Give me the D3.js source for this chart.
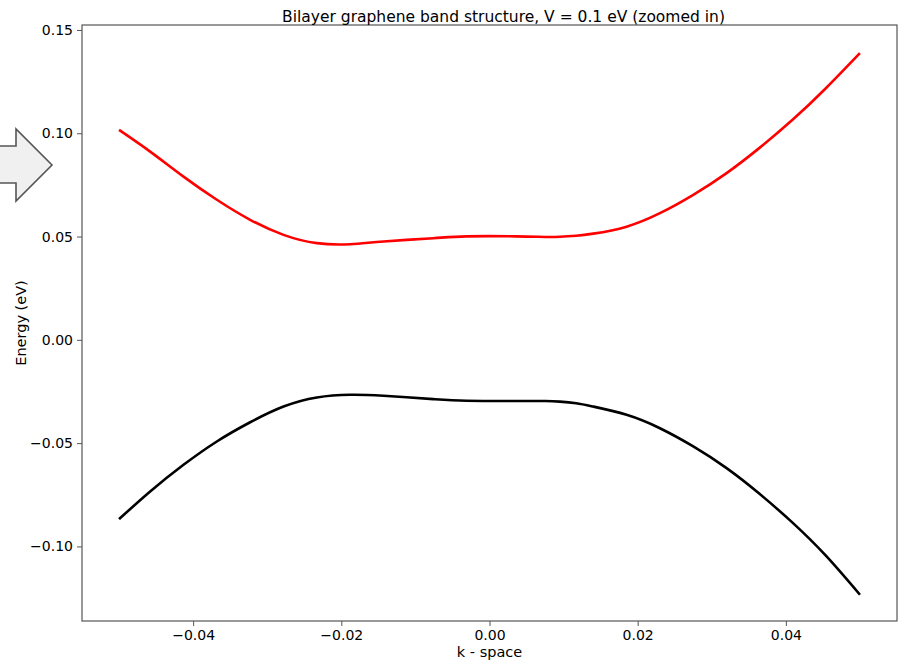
<!DOCTYPE html>
<html>
<head>
<meta charset="utf-8">
<script src="https://cdn.jsdelivr.net/npm/d3@7"></script>
<style>
  html, body { margin: 0; padding: 0; background: #fff; }
  svg { display: block; font-family: "DejaVu Sans", sans-serif; }
</style>
</head>
<body>
<svg id="chart" width="904" height="664"></svg>
<script>
// ---- data ----
const kValues = [-0.05, -0.0458, -0.0413, -0.0368, -0.0323, -0.0278, -0.0233, -0.0188, -0.0143, -0.0076, -0.0031, 0.0036, 0.0075, 0.0095, 0.0117, 0.014, 0.0185, 0.023, 0.0275, 0.032, 0.0364, 0.0409, 0.0454, 0.05];
const upperBand = [0.1016, 0.0911, 0.0790, 0.0678, 0.0581, 0.0508, 0.0468, 0.0463, 0.0476, 0.0492, 0.0501, 0.0501, 0.0498, 0.0499, 0.0504, 0.0514, 0.0548, 0.0613, 0.0702, 0.0807, 0.0928, 0.1065, 0.1218, 0.1388];
const lowerBand = [-0.0868, -0.0734, -0.0605, -0.0492, -0.0399, -0.0323, -0.0279, -0.0266, -0.0271, -0.0287, -0.0295, -0.0296, -0.0296, -0.0299, -0.0307, -0.0323, -0.0363, -0.0428, -0.0516, -0.0621, -0.0744, -0.0885, -0.1045, -0.1234];
const xTicks = [-0.04, -0.02, 0.00, 0.02, 0.04];
const yTicks = [-0.10, -0.05, 0.00, 0.05, 0.10, 0.15];
const titleText = "Bilayer graphene band structure, V = 0.1 eV (zoomed in)";
const xLabel = "k - space";
const yLabel = "Energy (eV)";

// ---- layout ----
const svg = d3.select("#chart");
const mLeft = 82, mRight = 897, mTop = 25, mBottom = 621;

const x = d3.scaleLinear().domain([-0.055, 0.055]).range([mLeft, mRight]);
const y = d3.scaleLinear().domain([-0.1361, 0.1524]).range([mBottom, mTop]);

const fmt = v => {
  const s = d3.format(".2f")(Math.abs(v) < 1e-12 ? 0 : v);
  return s.replace("-", "\u2212");
};

// axes
const xAxis = d3.axisBottom(x).tickValues(xTicks).tickSize(5).tickPadding(4).tickFormat(fmt);
const yAxis = d3.axisLeft(y).tickValues(yTicks).tickSize(5).tickPadding(4).tickFormat(fmt);

const gx = svg.append("g").attr("transform", `translate(0,${mBottom})`).call(xAxis);
const gy = svg.append("g").attr("transform", `translate(${mLeft},0)`).call(yAxis);
[gx, gy].forEach(g => {
  g.select(".domain").remove();
  g.selectAll(".tick line").attr("stroke", "#555").attr("stroke-width", 1);
  g.selectAll(".tick text").attr("fill", "#000").style("font-size", "14px").style("font-family", "DejaVu Sans, sans-serif");
});

// curves
const line = d3.line().x(d => x(d[0])).y(d => y(d[1])).curve(d3.curveNatural);
svg.append("clipPath").attr("id", "clip").append("rect")
  .attr("x", mLeft).attr("y", mTop).attr("width", mRight - mLeft).attr("height", mBottom - mTop);
const plot = svg.append("g").attr("clip-path", "url(#clip)");
plot.append("path").datum(kValues.map((k, i) => [k, upperBand[i]]))
  .attr("d", line).attr("fill", "none").attr("stroke", "#ff0000").attr("stroke-width", 2.6)
  .attr("stroke-linecap", "butt");
plot.append("path").datum(kValues.map((k, i) => [k, lowerBand[i]]))
  .attr("d", line).attr("fill", "none").attr("stroke", "#000000").attr("stroke-width", 2.6)
  .attr("stroke-linecap", "butt");

// frame
svg.append("rect").attr("x", mLeft).attr("y", mTop).attr("width", mRight - mLeft).attr("height", mBottom - mTop)
  .attr("fill", "none").attr("stroke", "#555").attr("stroke-width", 1.2);

// title and labels
svg.append("text").attr("x", (mLeft + mRight) / 2 + 14).attr("y", 22).attr("text-anchor", "middle")
  .style("font-size", "15.5px").attr("fill", "#000").text(titleText);
svg.append("text").attr("x", (mLeft + mRight) / 2).attr("y", 657).attr("text-anchor", "middle")
  .style("font-size", "14.5px").attr("fill", "#000").text(xLabel);
svg.append("text").attr("transform", `translate(26,${(mTop + mBottom) / 2}) rotate(-90)`).attr("text-anchor", "middle")
  .style("font-size", "14.5px").attr("fill", "#000").text(yLabel);

// arrow decoration at left
svg.append("path")
  .attr("d", "M-5,146 L16,146 L16,129 L52,165 L16,201 L16,183 L-5,183 Z")
  .attr("fill", "#f0f0f0").attr("stroke", "#555").attr("stroke-width", 1.6).attr("stroke-linejoin", "miter");
</script>
</body>
</html>
